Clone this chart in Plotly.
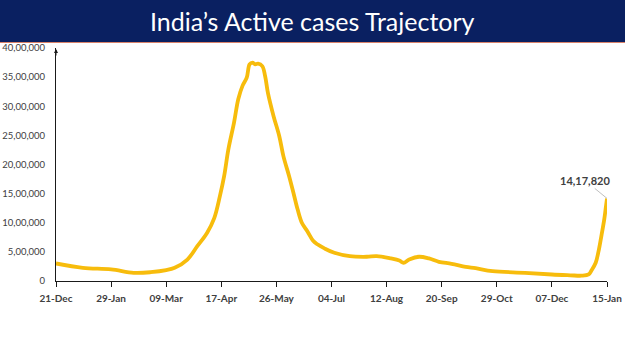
import plotly.graph_objects as go

# Data
dates = [
    "2020-12-21", "2021-01-09", "2021-01-29", "2021-02-14", "2021-02-26",
    "2021-03-09", "2021-03-15", "2021-03-24", "2021-03-31", "2021-04-07",
    "2021-04-12", "2021-04-16", "2021-04-19", "2021-04-22", "2021-04-26",
    "2021-04-29", "2021-05-02", "2021-05-05", "2021-05-07", "2021-05-09",
    "2021-05-11", "2021-05-13", "2021-05-16", "2021-05-18", "2021-05-20",
    "2021-05-24", "2021-05-28", "2021-05-31", "2021-06-04", "2021-06-07",
    "2021-06-10", "2021-06-13", "2021-06-17", "2021-06-21", "2021-06-24",
    "2021-06-29", "2021-07-06", "2021-07-17", "2021-07-29", "2021-08-05",
    "2021-08-15", "2021-08-21", "2021-08-24", "2021-08-28", "2021-09-04",
    "2021-09-11", "2021-09-18", "2021-09-27", "2021-10-07", "2021-10-14",
    "2021-10-26", "2021-11-18", "2021-12-07", "2021-12-20", "2021-12-28",
    "2022-01-02", "2022-01-04", "2022-01-07", "2022-01-09", "2022-01-11",
    "2022-01-13", "2022-01-14", "2022-01-15",
]
active_cases = [
    301000, 227000, 198000, 141000, 151000,
    186000, 227000, 369000, 598000, 830000,
    1080000, 1457000, 1800000, 2260000, 2720000,
    3120000, 3350000, 3490000, 3720000, 3750000,
    3720000, 3730000, 3690000, 3520000, 3230000,
    2830000, 2490000, 2140000, 1800000, 1520000,
    1230000, 1000000, 850000, 690000, 630000,
    560000, 484000, 426000, 416000, 426000,
    387000, 352000, 313000, 369000, 416000,
    387000, 330000, 296000, 244000, 220000,
    168000, 141000, 112000, 98000, 91000,
    112000, 180000, 313000, 507000, 770000,
    1050000, 1230000, 1417820,
]

x_tick_vals = ["2020-12-21", "2021-01-29", "2021-03-09", "2021-04-17", "2021-05-26",
               "2021-07-04", "2021-08-12", "2021-09-20", "2021-10-29", "2021-12-07",
               "2022-01-15"]
x_tick_text = ["21-Dec", "29-Jan", "09-Mar", "17-Apr", "26-May", "04-Jul",
               "12-Aug", "20-Sep", "29-Oct", "07-Dec", "15-Jan"]
y_tick_vals = [0, 500000, 1000000, 1500000, 2000000, 2500000, 3000000, 3500000, 4000000]
y_tick_text = ["0", "5,00,000", "10,00,000", "15,00,000", "20,00,000",
               "25,00,000", "30,00,000", "35,00,000", "40,00,000"]

title_text = "India’s Active cases Trajectory"
end_label = "14,17,820"

fig = go.Figure()
fig.add_trace(go.Scatter(
    x=dates, y=active_cases, mode="lines",
    line=dict(color="#F7BC0C", width=3.8, shape="spline", smoothing=1.0),
    cliponaxis=False, hoverinfo="skip", showlegend=False,
))

H_PLOT = 233.0
W_PLOT = 551.0

fig.update_layout(
    width=625, height=351,
    margin=dict(l=56, r=18, t=48, b=70),
    paper_bgcolor="white", plot_bgcolor="white",
    font=dict(family="Lato", color="#404040", size=10),
    xaxis=dict(
        type="date", range=["2020-12-21", "2022-01-15"], automargin=False,
        tickmode="array", tickvals=x_tick_vals, ticktext=x_tick_text,
        showgrid=False, zeroline=False,
        showline=True, linecolor="#1a1a1a", linewidth=1,
        ticks="outside", ticklen=5, tickcolor="#1a1a1a", ticklabelstandoff=3,
        tickfont=dict(family="Lato", size=10, color="#404040", weight="bold"),
    ),
    yaxis=dict(
        range=[0, 4000000], automargin=False,
        tickmode="array", tickvals=y_tick_vals, ticktext=y_tick_text,
        showgrid=False, zeroline=False,
        showline=True, linecolor="#1a1a1a", linewidth=1,
        ticks="", ticklabelstandoff=8,
        tickfont=dict(family="Lato", size=9.5, color="#404040"),
    ),
    shapes=[
        dict(type="rect", xref="paper", yref="paper", layer="above",
             x0=-56 / W_PLOT, x1=1 + 18 / W_PLOT,
             y0=1 + 6 / H_PLOT, y1=1 + 48 / H_PLOT,
             fillcolor="#0A2061", line=dict(width=0)),
        dict(type="line", xref="paper", yref="paper", layer="above",
             x0=-56 / W_PLOT, x1=1 + 18 / W_PLOT,
             y0=1 + 5.5 / H_PLOT, y1=1 + 5.5 / H_PLOT,
             line=dict(color="#D9826A", width=1.2)),
    ],
    annotations=[
        dict(text=title_text, xref="paper", yref="paper",
             x=(312.5 - 56) / W_PLOT, y=1 + 27 / H_PLOT,
             xanchor="center", yanchor="middle", showarrow=False,
             font=dict(family="Lato", size=25, color="white")),
        dict(text="", xref="paper", yref="paper", x=0, y=1 - 1 / H_PLOT,
             ax=0, ay=8, showarrow=True, arrowhead=2, arrowsize=0.8,
             arrowwidth=1, arrowcolor="#1a1a1a"),
        dict(text="<b>" + end_label + "</b>", x=dates[-1], y=active_cases[-1],
             xref="x", yref="y", ax=-22, ay=-18, showarrow=True,
             arrowhead=0, arrowwidth=1, arrowcolor="#BFBFBF",
             font=dict(family="Lato", size=11, color="#404040")),
    ],
)

fig.write_html("out.html")
